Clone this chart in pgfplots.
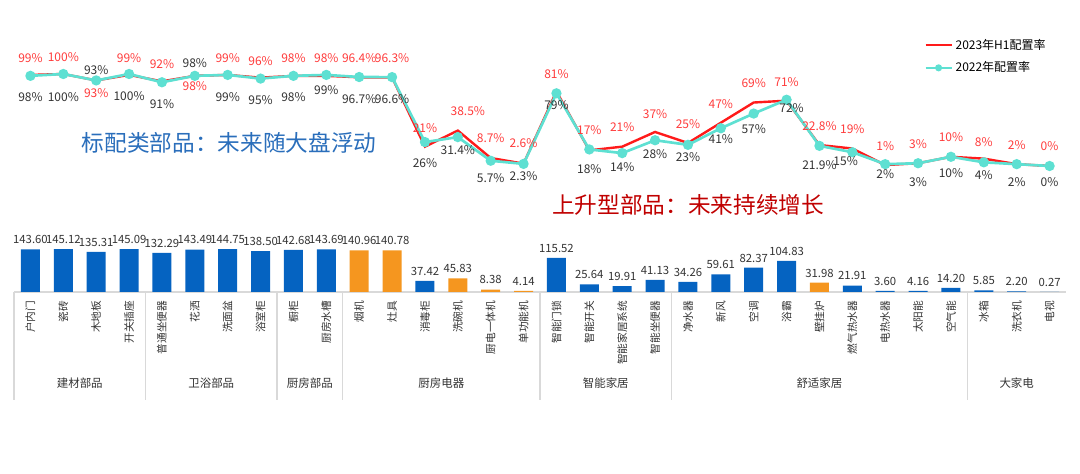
\documentclass[border=0pt]{standalone}
\usepackage{fontspec}
\setmainfont{Noto Sans CJK SC}
\usepackage{pgfplots}
\usepackage{pgfplotstable}
\pgfplotsset{compat=1.18}
\definecolor{lred}{HTML}{FF1A1A}
\definecolor{lteal}{HTML}{5EE0D2}
\definecolor{lblred}{HTML}{FF3B3B}
\definecolor{lbldark}{HTML}{333333}
\definecolor{barblue}{HTML}{0563C1}
\definecolor{barorange}{HTML}{F5961F}
\definecolor{txtblue}{HTML}{2A6EBB}
\definecolor{txtred}{HTML}{C00000}
\definecolor{sepgray}{HTML}{D9D9D9}

\pgfplotstableread{
x y dy dx
0 99 12.7 0
1 100 12.7 0
2 93 -9.5 0
3 99 12.7 0
4 92 13 0
5 98 -7.7 0
6 99 12.7 0
7 96 12.5 0
8 98 13.4 0
9 98 13.4 0
10 96.4 14.5 0
11 96.3 14.5 0
12 21 14 0
13 38.5 14.7 7.5
14 8.7 15 0
15 2.6 15.4 0
16 81 13 0
17 17 15.3 0
18 21 14.8 0
19 37 13.5 0
20 25 14.2 0
21 47 14 0
22 69 14.6 0
23 71 14 0
24 22.8 14.3 0
25 19 14.6 0
26 1 14.3 0
27 3 14.3 0
28 10 14.8 0
29 8 12.5 0
30 2 14.3 0
31 0 15 0
}\redtab

\pgfplotstableread{
x y dy dx
0 98 -16 0
1 100 -17 0
2 93 7.5 0
3 100 -16.5 0
4 91 -16.3 0
5 98 9.6 0
6 99 -16.5 0
7 95 -16 0
8 98 -16 0
9 99 -11.3 0
10 96.7 -16.5 0
11 96.6 -16.5 0
12 26 -15.8 0
13 31.4 -9.8 0
14 5.7 -13 0
15 2.3 -9 0
16 79 -9 0
17 18 -15 0
18 14 -10.5 0
19 28 -10.5 0
20 23 -9 0
21 41 -8 0
22 57 -11.8 0
23 72 -6 3.75
24 21.9 -14.3 0
25 15 -6.7 -5
26 2 -7.5 0
27 3 -14 0
28 10 -12 0
29 4 -9.5 0
30 2 -13.5 0
31 0 -12 0
}\tealtab

\pgfplotstableread{
x y
0 143.60
1 145.12
2 135.31
3 145.09
4 132.29
5 143.49
6 144.75
7 138.50
8 142.68
9 143.69
12 37.42
16 115.52
17 25.64
18 19.91
19 41.13
20 34.26
21 59.61
22 82.37
23 104.83
25 21.91
26 3.60
27 4.16
28 14.20
29 5.85
30 2.20
31 0.27
}\bluetab

\pgfplotstableread{
x y
10 140.96
11 140.78
13 45.83
14 8.38
15 4.14
24 31.98
}\orangetab

\begin{document}
\begin{tikzpicture}
\useasboundingbox (0,0) rectangle (810pt,355.5pt);

% ---------------- bars ----------------
\begin{axis}[
  at={(10.5pt,136.5pt)}, anchor=south west,
  scale only axis, width=789pt, height=33.3pt,
  xmin=-0.5, xmax=31.5, ymin=0, ymax=150,
  axis x line=bottom, axis y line=none,
  x axis line style={-, draw=sepgray, line width=0.8pt},
  xtick={0,...,31}, major tick length=0pt, ytick=\empty,
  xticklabels={户内门,瓷砖,木地板,开关插座,普通坐便器,花洒,洗面盆,浴室柜,橱柜,厨房水槽,烟机,灶具,消毒柜,洗碗机,厨电一体机,单功能机,智能门锁,智能开关,智能家居系统,智能坐便器,净水器,新风,空调,浴霸,壁挂炉,燃气热水器,电热水器,太阳能,空气能,冰箱,洗衣机,电视},
  xticklabel shift=3pt,
  xticklabel style={rotate=90, anchor=east, font=\fontsize{8}{8}\selectfont, text=lbldark},
  clip=false,
  ybar, bar width=14.25pt, bar shift=0pt,
  nodes near coords={\pgfplotspointmeta},
  point meta=explicit symbolic,
  every node near coord/.append style={anchor=south, yshift=0.5pt, font=\fontsize{8.5}{8.5}\selectfont, text=lbldark},
]
\addplot[fill=barblue, draw=none] table[x=x, y=y, meta=y] {\bluetab};
\addplot[fill=barorange, draw=none] table[x=x, y=y, meta=y] {\orangetab};

\draw[sepgray, line width=0.8pt] (axis cs:-0.5,0) -- ++(0pt,-81pt);
\draw[sepgray, line width=0.8pt] (axis cs:3.5,0) -- ++(0pt,-81pt);
\draw[sepgray, line width=0.8pt] (axis cs:7.5,0) -- ++(0pt,-81pt);
\draw[sepgray, line width=0.8pt] (axis cs:9.5,0) -- ++(0pt,-81pt);
\draw[sepgray, line width=0.8pt] (axis cs:15.5,0) -- ++(0pt,-81pt);
\draw[sepgray, line width=0.8pt] (axis cs:19.5,0) -- ++(0pt,-81pt);
\draw[sepgray, line width=0.8pt] (axis cs:28.5,0) -- ++(0pt,-81pt);

\begin{scope}[every node/.style={font=\fontsize{8.6}{8.6}\selectfont, text=lbldark}]
\node at (axis cs:1.5,0) [yshift=-68.25pt] {建材部品};
\node at (axis cs:5.5,0) [yshift=-68.25pt] {卫浴部品};
\node at (axis cs:8.5,0) [yshift=-68.25pt] {厨房部品};
\node at (axis cs:12.5,0) [yshift=-68.25pt] {厨房电器};
\node at (axis cs:17.5,0) [yshift=-68.25pt] {智能家居};
\node at (axis cs:24,0) [yshift=-68.25pt] {舒适家居};
\node at (axis cs:30,0) [yshift=-68.25pt] {大家电};
\end{scope}
\end{axis}

% ---------------- lines ----------------
\begin{axis}[
  at={(10.5pt,231pt)}, anchor=south west,
  scale only axis, width=789pt, height=69pt,
  xmin=-0.5, xmax=31.5, ymin=0, ymax=100,
  hide axis, clip=false,
  legend style={at={(0.865,1.413)}, anchor=north west, draw=none, fill=none,
    font=\fontsize{9}{9}\selectfont, row sep=4pt, inner sep=0pt,
    /tikz/every even column/.append style={column sep=2pt}},
  legend cell align=left,
  legend image code/.code={\draw[mark repeat=2, mark phase=2, #1, mark size=1.6pt] plot coordinates {(0pt,0pt) (9.75pt,0pt) (19.5pt,0pt)};},
]
\addplot[lred, line width=1.8pt, mark=none] table[x=x, y=y] {\redtab};
\addlegendentry{2023年H1配置率}
\addplot[lteal, line width=2pt, mark=*, mark size=2.8pt, mark options={fill=lteal, draw=lteal}] table[x=x, y=y] {\tealtab};
\addlegendentry{2022年配置率}

\addplot[draw=none, mark=none, forget plot, point meta=explicit symbolic,
  nodes near coords={\pgfplotspointmeta\%},
  visualization depends on={\thisrow{dy} \as \dy},
  visualization depends on={\thisrow{dx} \as \dx},
  every node near coord/.append style={anchor=center, yshift=\dy pt, xshift=\dx pt, text=lblred, font=\fontsize{9}{9}\selectfont}]
  table[x=x, y=y, meta=y] {\redtab};
\addplot[draw=none, mark=none, forget plot, point meta=explicit symbolic,
  nodes near coords={\pgfplotspointmeta\%},
  visualization depends on={\thisrow{dy} \as \dy},
  visualization depends on={\thisrow{dx} \as \dx},
  every node near coord/.append style={anchor=center, yshift=\dy pt, xshift=\dx pt, text=lbldark, font=\fontsize{9}{9}\selectfont}]
  table[x=x, y=y, meta=y] {\tealtab};
\end{axis}

\node[font=\fontsize{17}{17}\selectfont, text=txtblue] at (171.75pt,248.25pt) {标配类部品：未来随大盘浮动};
\node[font=\fontsize{17}{17}\selectfont, text=txtred] at (516pt,201.75pt) {上升型部品：未来持续增长};
\end{tikzpicture}
\end{document}
